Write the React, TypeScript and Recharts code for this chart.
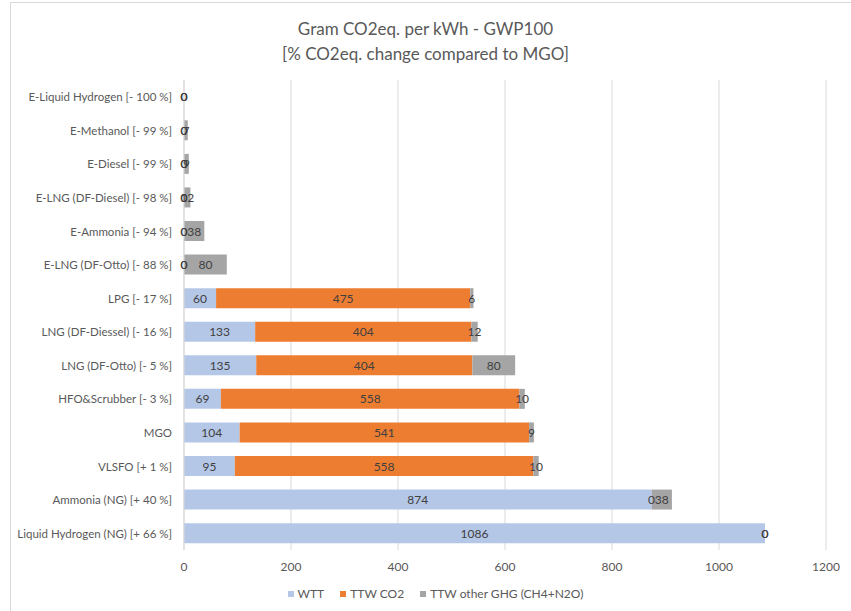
import React from "react";
import { BarChart, Bar, XAxis, YAxis, CartesianGrid, Legend, LabelList } from "recharts";

const categories = [
  "E-Liquid Hydrogen [- 100 %]",
  "E-Methanol [- 99 %]",
  "E-Diesel [- 99 %]",
  "E-LNG (DF-Diesel) [- 98 %]",
  "E-Ammonia [- 94 %]",
  "E-LNG (DF-Otto) [- 88 %]",
  "LPG [- 17 %]",
  "LNG (DF-Diessel) [- 16 %]",
  "LNG (DF-Otto) [- 5 %]",
  "HFO&Scrubber [- 3 %]",
  "MGO",
  "VLSFO [+ 1 %]",
  "Ammonia (NG) [+ 40 %]",
  "Liquid Hydrogen (NG) [+ 66 %]",
];
const wtt = [0, 0, 0, 0, 0, 0, 60, 133, 135, 69, 104, 95, 874, 1086];
const ttwCo2 = [0, 0, 0, 0, 0, 0, 475, 404, 404, 558, 541, 558, 0, 0];
const ttwOther = [0, 7, 9, 12, 38, 80, 6, 12, 80, 10, 9, 10, 38, 0];
const xTicks = [0, 200, 400, 600, 800, 1000, 1200];

const seriesNames = ["WTT", "TTW CO2", "TTW other GHG (CH4+N2O)"];
const seriesColors = ["#B4C7E7", "#ED7D31", "#A5A5A5"];

const data = categories.map((name, i) => ({
  name,
  wtt: wtt[i],
  co2: ttwCo2[i],
  other: ttwOther[i],
}));

const FONT = "Lato, 'Open Sans', sans-serif";

const renderLabel = (props: any) => {
  const { x, y, width, height, value } = props;
  const w = Math.abs(Number(width)) < 0.5 ? 0 : Number(width);
  return (
    <text
      x={Number(x) + w / 2}
      y={Number(y) + Number(height) / 2}
      textAnchor="middle"
      dominantBaseline="central"
      fill="#404040"
      fontSize={12}
      fontFamily={FONT}
    >
      {value}
    </text>
  );
};

const CategoryTick = (props: any) => {
  const { x, y, payload } = props;
  return (
    <text x={x} y={y} textAnchor="end" dominantBaseline="central" fill="#595959" fontSize={11.5} fontFamily={FONT}>
      {payload.value}
    </text>
  );
};

const LegendContent = () => (
  <div style={{ display: "flex", justifyContent: "center", gap: 16, fontSize: 12, fontFamily: FONT, color: "#595959" }}>
    {seriesNames.map((n, i) => (
      <div key={n} style={{ display: "flex", alignItems: "center" }}>
        <span style={{ display: "inline-block", width: 6, height: 6, background: seriesColors[i], marginRight: 4 }} />
        {n}
      </div>
    ))}
  </div>
);

export default function App() {
  return (
    <div style={{ position: "absolute", left: 0, top: 0, width: 851, height: 611, background: "#fff", fontFamily: FONT }}>
      <div style={{ position: "absolute", left: 10, top: 2, width: 850, height: 620, border: "1px solid #d9d9d9", boxSizing: "border-box" }} />
      <div style={{ position: "absolute", left: 0, top: 16, width: 851, textAlign: "center", color: "#595959", fontSize: 17, lineHeight: "25px" }}>
        <div>Gram CO2eq. per kWh - GWP100</div>
        <div>[% CO2eq. change compared to MGO]</div>
      </div>
      <BarChart
        width={851}
        height={611}
        data={data}
        layout="vertical"
        margin={{ top: 80, right: 25, bottom: 0, left: 0 }}
        barCategoryGap="20%"
        style={{ position: "absolute", left: 0, top: 0 }}
      >
        <CartesianGrid horizontal={false} stroke="#d9d9d9" />
        <XAxis
          type="number"
          domain={[0, 1200]}
          ticks={xTicks}
          axisLine={false}
          tickLine={false}
          height={46}
          tick={{ fill: "#595959", fontSize: 12, fontFamily: FONT }}
          tickMargin={6}
        />
        <YAxis
          type="category"
          dataKey="name"
          width={184}
          axisLine={{ stroke: "#d9d9d9" }}
          tickLine={false}
          tickMargin={6}
          interval={0}
          tick={<CategoryTick />}
        />
        <Legend verticalAlign="bottom" content={<LegendContent />} wrapperStyle={{ bottom: 10, left: 10, width: 851 }} />
        <Bar dataKey="wtt" name={seriesNames[0]} stackId="a" fill={seriesColors[0]} minPointSize={0.001} isAnimationActive={false}>
          <LabelList dataKey="wtt" content={renderLabel} />
        </Bar>
        <Bar dataKey="co2" name={seriesNames[1]} stackId="a" fill={seriesColors[1]} minPointSize={0.001} isAnimationActive={false}>
          <LabelList dataKey="co2" content={renderLabel} />
        </Bar>
        <Bar dataKey="other" name={seriesNames[2]} stackId="a" fill={seriesColors[2]} minPointSize={0.001} isAnimationActive={false}>
          <LabelList dataKey="other" content={renderLabel} />
        </Bar>
      </BarChart>
    </div>
  );
}
